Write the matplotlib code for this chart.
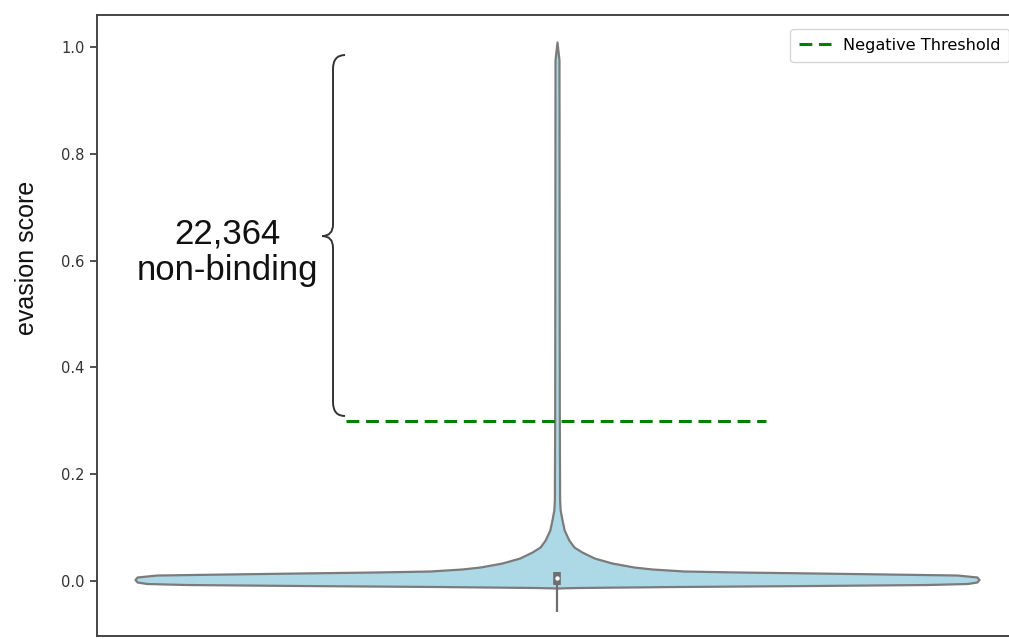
import matplotlib
matplotlib.use("Agg")
import matplotlib.pyplot as plt
from matplotlib.path import Path
from matplotlib.patches import PathPatch
import numpy as np

# ---- data ----
# violin outline: evasion score levels and relative density (half-width, max = 1)
profile_y = [-0.0131, -0.0122, -0.0103, -0.0084, -0.0066, -0.0047, -0.0019,
             0.0028, 0.0075, 0.0103, 0.0112, 0.0131, 0.0150, 0.0169, 0.0187,
             0.0225, 0.0262, 0.0337, 0.0431, 0.0543, 0.0637, 0.0768, 0.0955,
             0.1142, 0.1330, 0.1517, 0.3015, 0.7135, 0.9757, 1.0094]
profile_density = [0.0, 0.047, 0.284, 0.616, 0.877, 0.972, 0.995,
                   1.0, 0.995, 0.96, 0.948, 0.782, 0.609, 0.427, 0.301,
                   0.225, 0.182, 0.130, 0.088, 0.059, 0.040, 0.028, 0.017,
                   0.012, 0.0075, 0.0062, 0.0055, 0.0050, 0.0047, 0.0]
# inner box statistics
box_q1 = -0.0075
box_median = 0.0056
box_q3 = 0.017
whisker_low = -0.058

threshold = 0.3
threshold_label = "Negative Threshold"
count_label = "22,364\nnon-binding"
y_ticks = [0.0, 0.2, 0.4, 0.6, 0.8, 1.0]
y_label = "evasion score"

# ---- figure ----
fig = plt.figure(figsize=(10.09, 6.39), dpi=100)
ax = fig.add_axes([97 / 1009, 3 / 639, 920 / 1009, 621 / 639])

violin_width = 0.4
py = np.array(profile_y)
pw = np.array(profile_density) * violin_width
ax.fill_betweenx(py, -pw, pw, facecolor="#add8e6", edgecolor="#7b7b7b",
                 linewidth=1.6, zorder=2)

# inner box
ax.plot([0, 0], [whisker_low, box_q1], color="#6e6e6e", lw=1.6, zorder=3,
        solid_capstyle="butt")
ax.plot([0, 0], [box_q1, box_q3], color="#6e6e6e", lw=5.5, zorder=3,
        solid_capstyle="butt")
ax.scatter([0], [box_median], s=10, color="white", zorder=4, linewidths=0)

# threshold line
ax.plot([-0.2, 0.198], [threshold, threshold], color="green", lw=2.2,
        linestyle=(0, (4.2, 2.2)), label=threshold_label, zorder=5)

# brace
xs, xt, xp = -0.2123, -0.2009, -0.2227
ytop, ymid, ybot = 0.985, 0.646, 0.309
r, rm = 0.026, 0.022
verts = [(xt, ytop), (xs, ytop), (xs, ytop - r),
         (xs, ymid + rm), (xs, ymid), (xp, ymid),
         (xs, ymid), (xs, ymid - rm),
         (xs, ybot + r), (xs, ybot), (xt, ybot)]
codes = [Path.MOVETO, Path.CURVE3, Path.CURVE3,
         Path.LINETO, Path.CURVE3, Path.CURVE3,
         Path.CURVE3, Path.CURVE3,
         Path.LINETO, Path.CURVE3, Path.CURVE3]
ax.add_patch(PathPatch(Path(verts, codes), facecolor="none",
                       edgecolor="#333333", lw=1.4, zorder=5))

ax.text(-0.3128, 0.616, count_label, ha="center", va="center",
        multialignment="center", fontsize=25, family="Liberation Sans",
        color="#111111", linespacing=1.15)

ax.set_xlim(-0.436, 0.436)
ax.set_ylim(-0.103, 1.060)
ax.set_xticks([])
ax.set_yticks(y_ticks)
ax.set_yticklabels([f"{t:.1f}" for t in y_ticks])
ax.tick_params(axis="y", labelsize=10.5, colors="#333333", length=5,
               width=1.2, pad=4)
for s in ax.spines.values():
    s.set_color("#444444")
    s.set_linewidth(1.4)

ax.set_ylabel(y_label, fontsize=18, family="Liberation Sans", color="#111111")
ax.yaxis.set_label_coords(-0.076, 0.609)
ax.yaxis.label.set_va("center")

leg = ax.legend(loc="upper right", bbox_to_anchor=(1.008, 0.967),
                bbox_transform=fig.transFigure, fontsize=11.6,
                handlelength=2.0, frameon=True, fancybox=True,
                borderpad=0.55, handletextpad=0.7)
leg.get_frame().set_edgecolor("#cccccc")

fig.savefig("out.png", dpi=100)
